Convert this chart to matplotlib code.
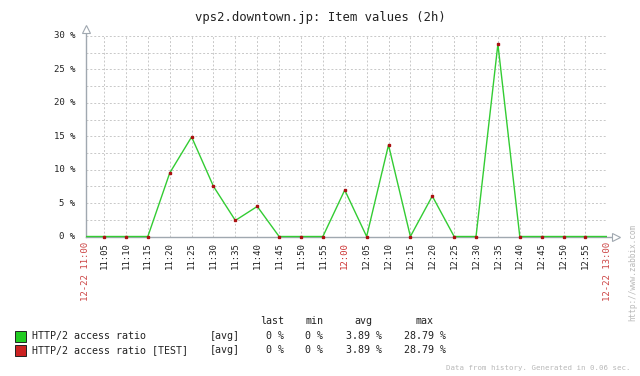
import matplotlib
matplotlib.use("Agg")
import matplotlib.pyplot as plt
from matplotlib.ticker import MultipleLocator
from matplotlib.patches import Rectangle

# ---- data ----
title = "vps2.downtown.jp: Item values (2h)"
minutes = [0, 5, 10, 15, 20, 25, 30, 35, 40, 45, 50, 55, 60, 65, 70, 75, 80, 85,
           90, 95, 100, 105, 110, 115, 120]
values = [0, 0, 0, 0, 9.5, 14.9, 7.5, 2.4, 4.5, 0, 0, 0, 6.95, 0, 13.7, 0, 6.05,
          0, 0, 28.79, 0, 0, 0, 0, 0]
marker_minutes = minutes[1:-1]
marker_values = values[1:-1]
tick_labels = ["11:05", "11:10", "11:15", "11:20", "11:25", "11:30", "11:35", "11:40",
               "11:45", "11:50", "11:55", "12:00", "12:05", "12:10", "12:15", "12:20",
               "12:25", "12:30", "12:35", "12:40", "12:45", "12:50", "12:55"]
edge_labels = ["12-22 11:00", "12-22 13:00"]
series_names = ["HTTP/2 access ratio", "HTTP/2 access ratio [TEST]"]
stat_headers = ["last", "min", "avg", "max"]
stat_values = [["0 %", "0 %", "3.89 %", "28.79 %"],
               ["0 %", "0 %", "3.89 %", "28.79 %"]]
footer = "Data from history. Generated in 0.06 sec."
side_text = "http://www.zabbix.com"

W, H = 640, 376
fig = plt.figure(figsize=(6.4, 3.76), dpi=100)
FONT = "DejaVu Sans Mono"

def fx(px):
    return px / W

def fy(py):
    return 1 - py / H

x0, x1 = 85.7, 607.3
y0, y1 = 236.5, 36.0
ax = fig.add_axes([fx(x0), fy(y0), fx(x1) - fx(x0), fy(y1) - fy(y0)])
xmin, xmax = 0.8, 120
ax.set_xlim(xmin, xmax)
ax.set_ylim(0, 30)
for s in ax.spines.values():
    s.set_visible(False)

grid_c = "#c8c8c8"
for m in minutes[1:]:
    ax.axvline(m, color=grid_c, lw=0.7, ls=(0, (2, 2)), zorder=1)
for v in [2.5 * i for i in range(1, 13)]:
    ax.axhline(v, color=grid_c, lw=0.7, ls=(0, (2, 2)), zorder=1)

axis_c = "#a0a8b0"
ax.plot([0, 0], [0, 1.035], transform=ax.transAxes, color=axis_c, lw=1, clip_on=False, zorder=3)
ax.plot([0, 1.017], [0, 0], transform=ax.transAxes, color=axis_c, lw=1, clip_on=False, zorder=3)
ax.plot([0], [1.035], transform=ax.transAxes, marker="^", ms=6, mfc="white", mec=axis_c,
        mew=0.8, clip_on=False, zorder=4)
ax.plot([1.017], [0], transform=ax.transAxes, marker=">", ms=6, mfc="white", mec=axis_c,
        mew=0.8, clip_on=False, zorder=4)

clip = Rectangle((0, -0.05), 1.0, 1.2, transform=ax.transAxes, visible=False)
ax.add_patch(clip)
ln, = ax.plot(minutes, values, color="#33cc33", lw=1.0, zorder=5)
ln.set_clip_path(clip)
ax.plot(marker_minutes, marker_values, ls="none", marker="s", ms=2.1, color="#aa1111",
        zorder=6, clip_on=False)

ax.yaxis.set_major_locator(MultipleLocator(5))
ax.tick_params(left=False, bottom=False, labelleft=False, labelbottom=False)
for v in range(0, 31, 5):
    ax.text(-0.02, v, f"{v} %", transform=ax.get_yaxis_transform(), ha="right",
            va="center", fontsize=6.5, family=FONT, color="#222222")

for m, lab in zip(marker_minutes, tick_labels):
    col = "#cc3333" if lab.endswith(":00") else "#222222"
    ax.text(m, -0.028, lab, transform=ax.get_xaxis_transform(), rotation=90,
            ha="center", va="top", fontsize=6.5, family=FONT, color=col)
for m, lab in zip([xmin, xmax], edge_labels):
    ax.text(m, -0.028, lab, transform=ax.get_xaxis_transform(), rotation=90,
            ha="center", va="top", fontsize=6.5, family=FONT, color="#cc4444")

fig.text(fx(320), fy(18), title, ha="center", va="center", fontsize=8.8, family=FONT,
         color="#222222")

# legend
lf = 7.2
hdr_x = [284, 323, 372, 433]
val_x = [284, 323, 382, 446]
for h, x in zip(stat_headers, hdr_x):
    fig.text(fx(x), fy(321.5), h, ha="right", va="center", fontsize=lf, family=FONT,
             color="#222222")
colors = ["#22cc22", "#cc2222"]
for i, (name, col) in enumerate(zip(series_names, colors)):
    yy = 336 + 14.3 * i
    fig.patches.append(Rectangle((fx(15), fy(yy + 5.5)), fx(11), 11 / H,
                                 transform=fig.transFigure, facecolor=col,
                                 edgecolor="#222222", lw=0.7))
    fig.text(fx(32), fy(yy), name, ha="left", va="center", fontsize=lf, family=FONT,
             color="#222222")
    fig.text(fx(210), fy(yy), "[avg]", ha="left", va="center", fontsize=lf, family=FONT,
             color="#222222")
    for v, x in zip(stat_values[i], val_x):
        fig.text(fx(x), fy(yy), v, ha="right", va="center", fontsize=lf, family=FONT,
                 color="#222222")

fig.text(fx(630), fy(368), footer, ha="right", va="center", fontsize=5.3, family=FONT,
         color="#b8b8b8")
fig.text(fx(633), fy(272), side_text, ha="center", va="center", rotation=90,
         fontsize=5.6, family=FONT, color="#b8b8b8")

fig.savefig("out.png", dpi=100, facecolor="white")
